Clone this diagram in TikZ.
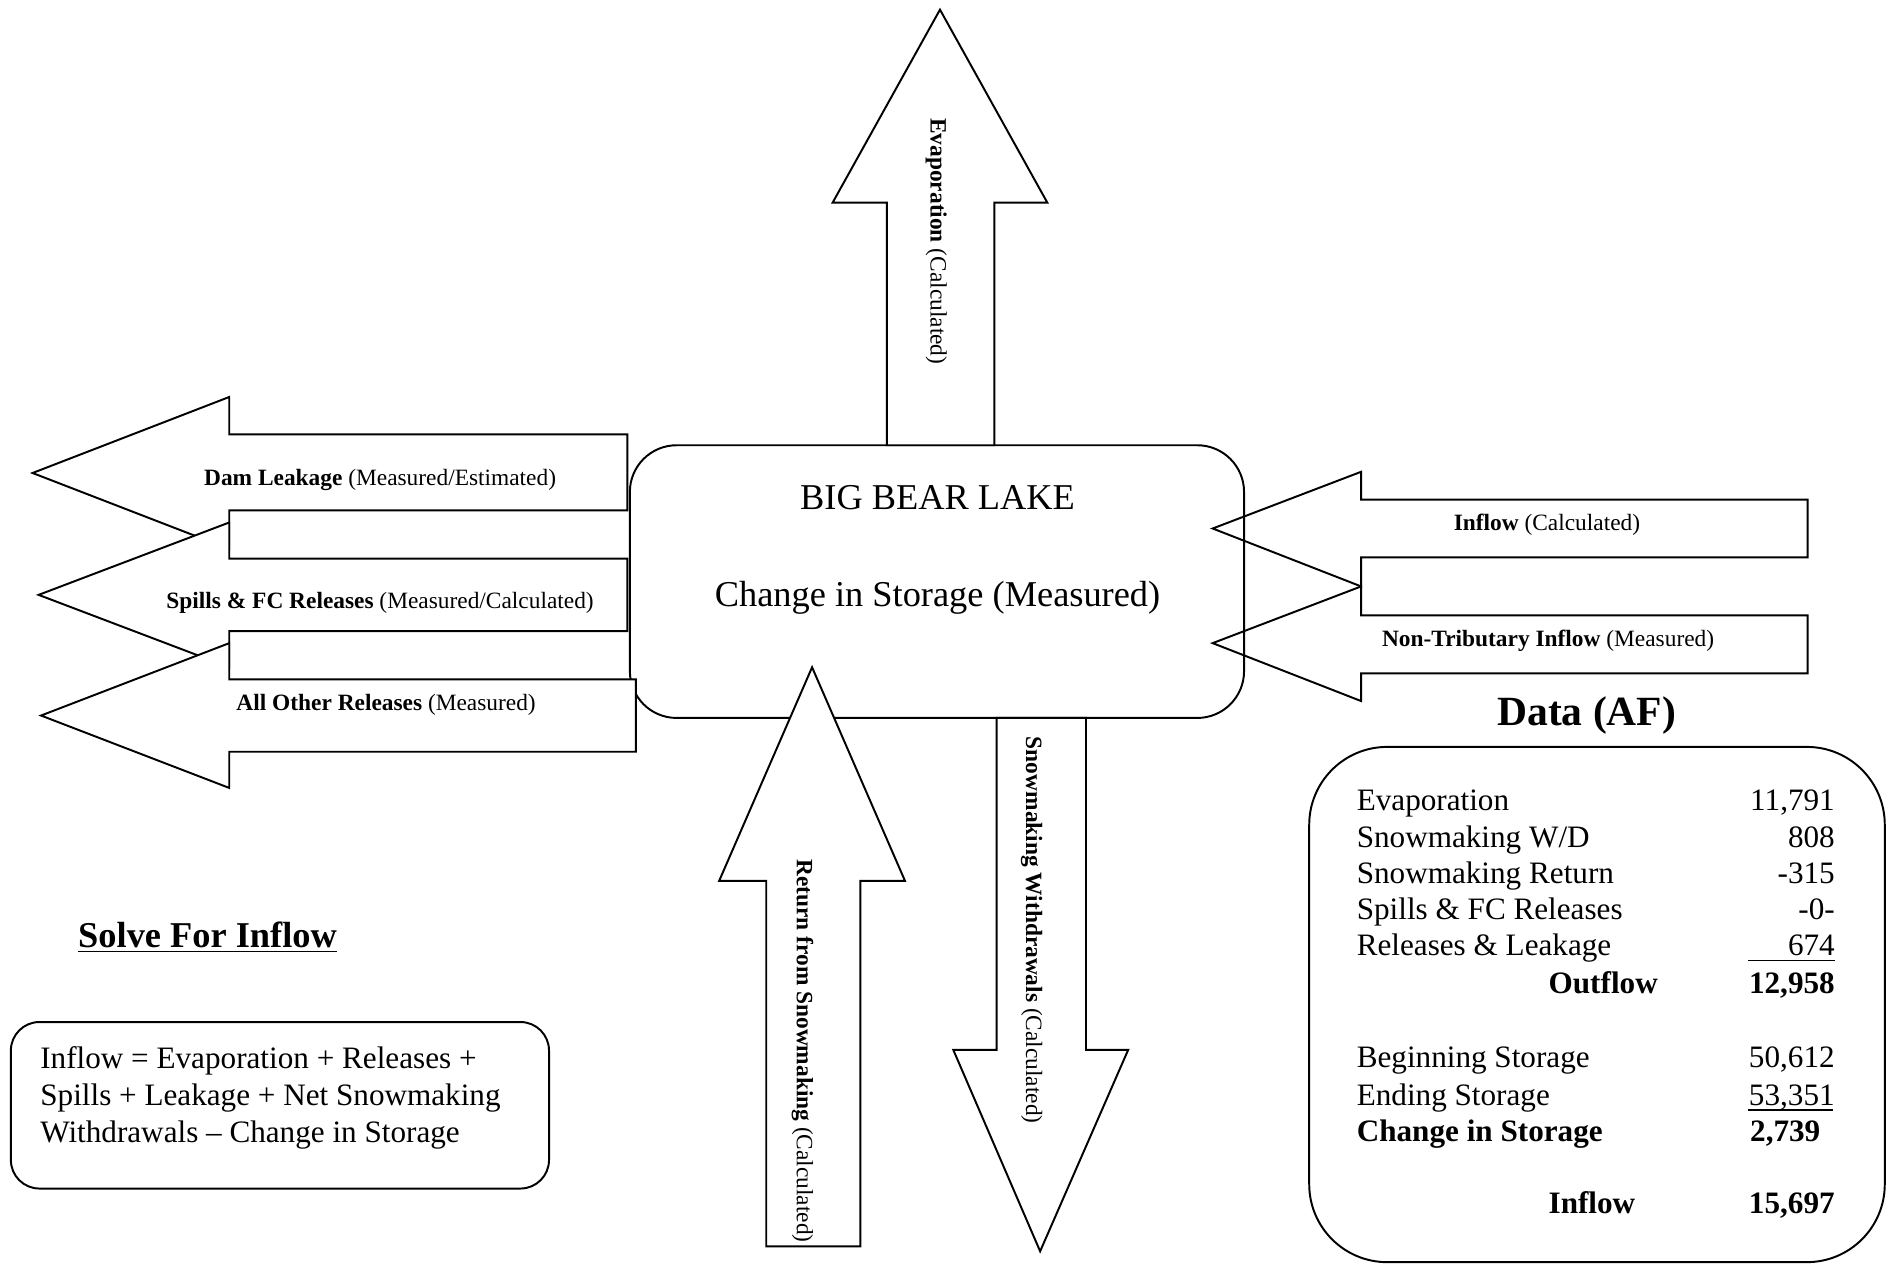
\documentclass[tikz,border=0pt]{standalone}
\usepackage{fontspec}
\setmainfont{Liberation Serif}
\tikzset{
  bigarrow/.style={draw, line width=0.75pt, line join=miter, fill=white},
  openarrow/.style={draw, line width=0.75pt, line join=miter},
  flowlbl/.style={font=\fontsize{9}{11}\selectfont, inner sep=0pt},
  lakelbl/.style={font=\fontsize{14}{17}\selectfont, inner sep=0pt, anchor=base},
  rowlbl/.style={font=\fontsize{12}{14}\selectfont, inner sep=0pt, anchor=base west},
  rownum/.style={font=\fontsize{12}{14}\selectfont, inner sep=0pt, anchor=base east},
  rowsum/.style={font=\fontsize{12}{14}\selectfont\bfseries, inner sep=0pt},
}
\begin{document}
\begin{tikzpicture}[x=0.4645pt, y=-0.4645pt]
	\useasboundingbox (0,0) rectangle (1568,1049);
	% the lake
	\draw[line width=0.75pt, rounded corners=18pt, fill=white] (522,369) rectangle (1031,595);
	% inflows on the right
	\draw[openarrow] (1498,414) -- (1128,414) -- (1128,391) -- (1005,438) -- (1128,486) -- (1128,462) -- (1498,462) -- cycle;
	\draw[openarrow] (1498,510) -- (1128,510) -- (1128,486) -- (1005,533) -- (1128,581) -- (1128,558) -- (1498,558) -- cycle;
	\node[flowlbl] (inflow) at (1282,435) {\textbf{Inflow} (Calculated)};
	\node[flowlbl] (nontrib) at (1283,531) {\textbf{Non-Tributary Inflow} (Measured)};
	% evaporation
	\draw[bigarrow] (735,369) -- (735,168) -- (690,168) -- (779,8) -- (868,168) -- (824,168) -- (824,369) -- cycle;
	\node[flowlbl, rotate=-90] (evap) at (776,200) {\textbf{Evaporation} (Calculated)};
	% snowmaking withdrawals
	\draw[bigarrow] (826,595) -- (826,870) -- (790,870) -- (862,1037) -- (935,870) -- (900,870) -- (900,595) -- cycle;
	\node[flowlbl, rotate=-90] (snowwd) at (855,771) {\textbf{Snowmaking Withdrawals} (Calculated)};
	% releases on the left
	\draw[bigarrow] (520,360) -- (190,360) -- (190,329) -- (27,392) -- (190,455) -- (190,423) -- (520,423) -- cycle;
	\draw[bigarrow] (520,463) -- (190,463) -- (190,433) -- (32,493) -- (190,553) -- (190,523) -- (520,523) -- cycle;
	\draw[bigarrow] (527,563) -- (190,563) -- (190,533) -- (34,593) -- (190,653) -- (190,623) -- (527,623) -- cycle;
	\node[flowlbl] (leak) at (315,398) {\textbf{Dam Leakage} (Measured/Estimated)};
	\node[flowlbl] (spills) at (315,500) {\textbf{Spills \& FC Releases} (Measured/Calculated)};
	\node[flowlbl] (other) at (320,584) {\textbf{All Other Releases} (Measured)};
	% return from snowmaking
	\draw[bigarrow] (635,1033) -- (635,730) -- (596,730) -- (673,553) -- (750,730) -- (713,730) -- (713,1033) -- cycle;
	\node[flowlbl, rotate=-90] (snowret) at (665,871) {\textbf{Return from Snowmaking} (Calculated)};
	% lake text
	\node[lakelbl] (lakename) at (777,422) {BIG BEAR LAKE};
	\node[lakelbl] (lakestore) at (777,503) {Change in Storage (Measured)};
	% solve for inflow
	\node[font=\fontsize{14}{17}\selectfont\bfseries, inner sep=0pt, anchor=base] (solve) at (172,785) {\underline{Solve For Inflow}};
	\draw[line width=0.75pt, rounded corners=11pt] (9,847) rectangle (455,985);
	\node[font=\fontsize{12}{14.2}\selectfont, inner sep=0pt, anchor=north west, align=left] (eqn) at (33,867)
		{Inflow = Evaporation + Releases +\\Spills + Leakage + Net Snowmaking\\Withdrawals -- Change in Storage};
	% data table
	\node[font=\fontsize{16}{19}\selectfont\bfseries, inner sep=0pt, anchor=base] (datattl) at (1315,601) {Data (AF)};
	\draw[line width=0.75pt, rounded corners=30pt] (1085,619) rectangle (1562,1046);
	\node[rowlbl] (evaprow) at (1124,672) {Evaporation};
	\node[rownum] (evapval) at (1521,672) {11,791};
	\node[rowlbl] (wdrow) at (1124,702) {Snowmaking W/D};
	\node[rownum] (wdval) at (1521,702) {808};
	\node[rowlbl] (retrow) at (1124,732) {Snowmaking Return};
	\node[rownum] (retval) at (1521,732) {-315};
	\node[rowlbl] (spillrow) at (1124,762) {Spills \& FC Releases};
	\node[rownum] (spillval) at (1521,762) {-0-};
	\node[rowlbl] (relrow) at (1124,792) {Releases \& Leakage};
	\node[rownum] (relval) at (1521,792) {674};
	\draw[line width=0.6pt] (1449,796) -- (1521,796);
	\node[rowsum, anchor=base west] (outrow) at (1283,823) {Outflow};
	\node[rowsum, anchor=base east] (outval) at (1521,823) {12,958};
	\node[rowlbl] (begrow) at (1124,885) {Beginning Storage};
	\node[rowlbl] (begval) at (1449,885) {50,612};
	\node[rowlbl] (endrow) at (1124,916) {Ending Storage};
	\node[rowlbl] (endval) at (1449,916) {53,351};
	\draw[line width=0.6pt] (1449,920) -- (1519,920);
	\node[rowsum, anchor=base west] (chgrow) at (1124,946) {Change in Storage};
	\node[rowsum, anchor=base west] (chgval) at (1450,946) {2,739};
	\node[rowsum, anchor=base west] (inrow) at (1283,1006) {Inflow};
	\node[rowsum, anchor=base west] (inval) at (1449,1006) {15,697};
\end{tikzpicture}
\end{document}
